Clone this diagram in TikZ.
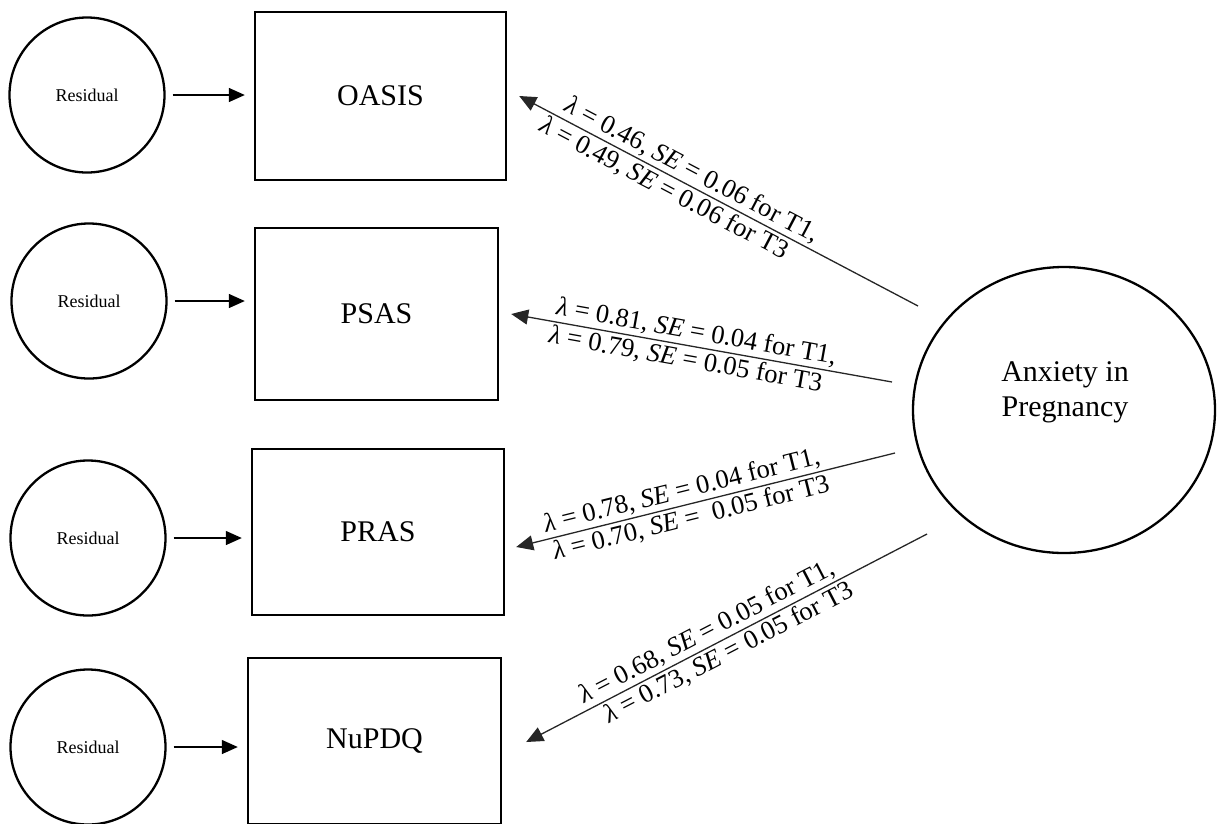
\documentclass[tikz,border=0pt]{standalone}
\usepackage{fontspec}
\setmainfont{Liberation Serif}
\usetikzlibrary{arrows.meta,shapes.geometric}
\begin{document}
\begin{tikzpicture}[x=1pt,y=-1pt,
  resid/.style={draw, circle, line width=2.3pt, minimum size=155pt, inner sep=0pt, font=\fontsize{18}{20}\selectfont},
  obs/.style={draw, rectangle, line width=2.4pt, inner sep=0pt, font=\fontsize{30}{34}\selectfont},
  lat/.style={draw, ellipse, line width=2.3pt, minimum width=302pt, minimum height=286pt, inner sep=0pt},
  lattext/.style={align=center, inner sep=0pt, font=\fontsize{30}{35}\selectfont},
  rarr/.style={line width=1.4pt, -{Triangle[length=16pt,width=14pt]}, shorten <=7pt, shorten >=9pt},
  load/.style={line width=1.3pt, draw=black!85, {Triangle[length=17pt,width=15pt]}-},
  lab/.style={font=\fontsize{26.5}{28}\selectfont, inner sep=2.5pt, sloped}
]
\useasboundingbox (0,0) rectangle (1217,823);
\clip (0,0) rectangle (1217,823);
% residuals
\node[resid] (r1) at (87,95) {Residual};
\node[resid] (r2) at (89,301) {Residual};
\node[resid] (r3) at (88,538) {Residual};
\node[resid] (r4) at (88,747) {Residual};
% indicators
\node[obs, minimum width=251pt, minimum height=168pt] (oasis) at (380.5,96) {OASIS};
\node[obs, minimum width=243pt, minimum height=172pt] (psas) at (376.5,314) {PSAS};
\node[obs, minimum width=252pt, minimum height=166pt] (pras) at (378,532) {PRAS};
\node[obs, minimum width=253pt, minimum height=166pt] (nupdq) at (374.5,741) {NuPDQ};
% latent
\node[lat] (anx) at (1064,410) {};
\node[lattext] (anxt) at (1065,392) {Anxiety in\\Pregnancy};
% residual arrows
\draw[rarr] (r1.east) -- (r1.east -| oasis.west);
\draw[rarr] (r2.east) -- (r2.east -| psas.west);
\draw[rarr] (r3.east) -- (r3.east -| pras.west);
\draw[rarr] (r4.east) -- (r4.east -| nupdq.west);
% loadings
\coordinate (s1) at (918,306);
\coordinate (s2) at (892,382);
\coordinate (s3) at (895,453);
\coordinate (s4) at (927,534);
\draw[load] ([xshift=12pt]oasis.east) -- (s1)
  node[lab, pos=0.416, above] {\textit{λ} = 0.46, \textit{SE} = 0.06 for T1,}
  node[lab, pos=0.38, below] {\textit{λ} = 0.49, \textit{SE} = 0.06 for T3};
\draw[load] ([xshift=12pt]psas.east) -- (s2)
  node[lab, pos=0.48, above] {\textit{λ} = 0.81, \textit{SE} = 0.04 for T1,}
  node[lab, pos=0.465, below] {\textit{λ} = 0.79, \textit{SE} = 0.05 for T3};
\draw[load] ([xshift=11pt,yshift=-15pt]pras.east) -- (s3)
  node[lab, pos=0.447, above] {\textit{λ} = 0.78, \textit{SE} = 0.04 for T1,}
  node[lab, pos=0.453, below] {\textit{λ} = 0.70, \textit{SE} =\ \ 0.05 for T3};
\draw[load] ([xshift=24pt,yshift=-1pt]nupdq.east) -- (s4)
  node[lab, pos=0.468, above] {\textit{λ} = 0.68, \textit{SE} = 0.05 for T1,}
  node[lab, pos=0.49, below] {\textit{λ} = 0.73, \textit{SE} = 0.05 for T3};
\end{tikzpicture}
\end{document}
